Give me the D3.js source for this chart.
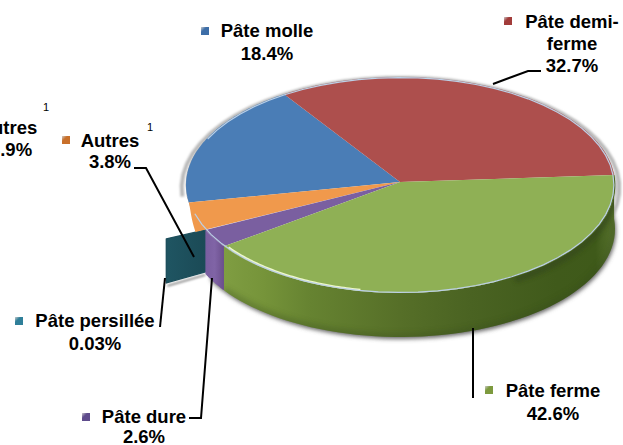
<!DOCTYPE html>
<html><head><meta charset="utf-8">
<script src="https://cdn.jsdelivr.net/npm/d3@7/dist/d3.min.js"></script>
<style>html,body{margin:0;padding:0;background:#fff;overflow:hidden}svg{display:block}
text{font-family:"Liberation Sans",Arial,sans-serif;font-weight:bold;font-size:18.5px;fill:#000;text-anchor:middle}</style>
</head><body><div id="c"></div>
<script>
const categories=["Pâte molle","Pâte demi-ferme","Pâte ferme","Pâte dure","Pâte persillée","Autres"];
const shares=[18.4,32.7,42.6,2.6,0.03,3.8];
const shareLabels=["18.4%","32.7%","42.6%","2.6%","0.03%","3.8%"];
const topColors=["#4a7db6","#ad4f4d","#8fb055","#7a5fa0","#1d4f5c","#f0994c"];
const markerColors=["#3d6ea8","#a23c3a","#7d9a3e","#5f4c8c","#2f7f99","#c9702a"];

const W=623,H=445;
const svg=d3.select("#c").append("svg").attr("width",W).attr("height",H);
const defs=svg.append("defs");
const x=d3.scaleLinear().domain([-1,1]).range([186,615]);
const y=d3.scaleLinear().domain([-1,1]).range([77,293]);
const apex=[400,182], depth=44;
const rad=Math.PI/180;
// small perspective warp near the front-left of the disc
const warp=a=>{let n=((a/rad)%360+360)%360;const d=(n-238)/16;return a-2.5*rad*Math.exp(-d*d);};
const pt=(a,r=1,dy=0)=>{const w=warp(a);return [x(r*Math.sin(w)),y(-r*Math.cos(w))+dy];};
const steps=(a0,a1)=>d3.range(0,61).map(i=>a0+(a1-a0)*i/60);
const line=d3.line();

const arcs=d3.pie().sort(null).value(d=>d).startAngle(-99*rad).endAngle(261*rad)(shares);

function blur(id,s){defs.append("filter").attr("id",id).attr("x","-20%").attr("y","-20%").attr("width","140%").attr("height","140%")
  .append("feGaussianBlur").attr("stdDeviation",s);}
blur("b1",1.2);blur("b2",2);blur("b05",.6);blur("b3",3);
function grad(id,stops,o={x1:0,y1:0,x2:1,y2:0}){const g=defs.append("linearGradient").attr("id",id);
  Object.entries(o).forEach(([k,v])=>g.attr(k,v));
  stops.forEach(s=>g.append("stop").attr("offset",s[0]).attr("stop-color",s[1]));}
grad("gw",[[0,"#7f9d42"],[.1,"#76943a"],[.22,"#668331"],[.45,"#566f28"],[.63,"#4a6322"],[.85,"#405a1b"],[.95,"#3f5a1a"],[1,"#5a7530"]]);
grad("pw",[[0,"#7a5ea0"],[.5,"#8064a6"],[1,"#6a4e8c"]]);
grad("tw",[[0,"#1f5562"],[1,"#1b4a56"]]);
["m0","m1","m2","m3","m4","m5"].forEach((id,i)=>grad(id,[[0,"#ccc"],[.35,markerColors[i]],[1,markerColors[i]]],{x1:0,y1:0,x2:1,y2:1}));

const g=svg.append("g");
const ellipse=steps(0,2*Math.PI).map(a=>pt(a));
const wallOutline=(a0,a1)=>line(steps(a0,a1).map(a=>pt(a)).concat(steps(a1,a0).map(a=>pt(a,1,depth))))+"Z";
g.append("path").attr("d",wallOutline(Math.PI*.45,Math.PI*1.36)).attr("fill","#666").attr("filter","url(#b2)").attr("transform","translate(1,2)");
g.append("path").attr("d",line(ellipse)+"Z").attr("fill","#fff").attr("stroke","#b5b5b5").attr("stroke-width",1).attr("filter","url(#b05)");
g.append("path").attr("d",line(steps(arcs[5].startAngle-.02,arcs[0].startAngle+.08).map(a=>pt(a,1.02,3)))).attr("fill","none").attr("stroke","#b8b8b8").attr("stroke-width",4).attr("filter","url(#b1)");

const green=arcs[2],purple=arcs[3],teal=arcs[4],orange=arcs[5];

// exploded near-zero slice, seen as its cut face
const ta=teal.startAngle, tOut=pt(ta,1.2), tIn=pt(ta,1);
const face=[tOut,tIn,[tIn[0],tIn[1]+depth-2],[tOut[0],tOut[1]+depth]];
g.append("path").attr("d",line([[face[3][0]+1,face[3][1]+3],[face[2][0],face[2][1]+3]])).attr("stroke","#888").attr("stroke-width",2).attr("filter","url(#b1)");
g.append("path").attr("d",line(face)+"Z").attr("fill","url(#tw)").attr("stroke","#1d4f5c").attr("stroke-width",1.5).attr("stroke-linejoin","round");

// walls
g.append("path").attr("d",wallOutline(purple.startAngle,purple.endAngle)).attr("fill","url(#pw)");
const clip=defs.append("clipPath").attr("id","gc");
clip.append("path").attr("d",wallOutline(green.startAngle,green.endAngle));
g.append("path").attr("d",wallOutline(green.startAngle,green.endAngle)).attr("fill","url(#gw)");
g.append("path").attr("clip-path","url(#gc)").attr("d",line(steps(green.startAngle,green.endAngle).map(a=>pt(a,1,depth))))
  .attr("fill","none").attr("stroke","#34481a").attr("stroke-width",6).attr("filter","url(#b3)").attr("opacity",.4);
g.append("path").attr("clip-path","url(#gc)").attr("d",line(steps(green.startAngle,green.startAngle+1.1).map(a=>pt(a,1,3))))
  .attr("fill","none").attr("stroke","#34481a").attr("stroke-width",7).attr("filter","url(#b2)").attr("opacity",.7);

// tops
[0,1,5,3,2].forEach(i=>{const d=arcs[i];
  const rim=steps(d.startAngle,d.endAngle).map(a=>{
    const r=i===5?1+.05*Math.pow((d.endAngle-a)/(d.endAngle-d.startAngle),1.5):1;
    return pt(a,r);});
  g.append("path").attr("d",line([apex].concat(rim))+"Z").attr("fill",topColors[i]);
});
// bevel highlight on the rim of the green slice
const rim=steps(green.endAngle-.82,green.endAngle-.02).map(a=>pt(a,.988));
g.append("path").attr("d",line(rim)).attr("fill","none").attr("stroke","#eef8c8").attr("stroke-width",2).attr("filter","url(#b05)");
const rimR=steps(green.startAngle,green.startAngle+1.2).map(a=>pt(a,.998));
g.append("path").attr("d",line(rimR)).attr("fill","none").attr("stroke","#4b6620").attr("stroke-width",1.4).attr("filter","url(#b05)");
const rimL=steps(orange.endAngle-.1,arcs[0].startAngle+.6).map(a=>pt(a,.995));
g.append("path").attr("d",line(rimL)).attr("fill","none").attr("stroke","#bcd0e6").attr("stroke-width",1.2).attr("filter","url(#b05)");

// leader lines
const leaders=[
 [[493,84],[528,71],[541,71]],
 [[473,328],[473,398]],
 [[212,278],[201,418],[189,418]],
 [[165,278],[160,327]],
 [[134,168],[146,168],[194,257]]
];
svg.append("g").selectAll("path").data(leaders).join("path").attr("d",d=>line(d)).attr("fill","none").attr("stroke","#000").attr("stroke-width",2);

// labels
const layouts=[
 {i:0,cx:267,ys:[37,60],lines:["Pâte molle"],mk:[205,31]},
 {i:1,cx:572,ys:[28,50,72],lines:["Pâte demi-","ferme"],mk:[508,21]},
 {i:2,cx:553,ys:[397,420],lines:["Pâte ferme"],mk:[489,390]},
 {i:3,cx:144,ys:[423,443],lines:["Pâte dure"],mk:[86,417]},
 {i:4,cx:95,ys:[327,350],lines:["Pâte persillée"],mk:[19,321]},
 {i:5,cx:110,ys:[147,168],lines:["Autres"],mk:[66,140]}
];
const lab=svg.append("g");
layouts.forEach(l=>{
  l.lines.concat([shareLabels[l.i]]).forEach((t,k)=>lab.append("text").attr("x",l.cx).attr("y",l.ys[k]).text(t));
  lab.append("rect").attr("x",l.mk[0]-4).attr("y",l.mk[1]-4).attr("width",8).attr("height",8).attr("fill",`url(#m${l.i})`);
});
lab.append("text").attr("x",8).attr("y",134).text("Autres");
lab.append("text").attr("x",11).attr("y",156).text("3.9%");
[[46,111],[150,131]].forEach(p=>lab.append("text").attr("x",p[0]).attr("y",p[1]).style("font-weight","normal").style("font-size","11px").text("1"));
</script></body></html>
